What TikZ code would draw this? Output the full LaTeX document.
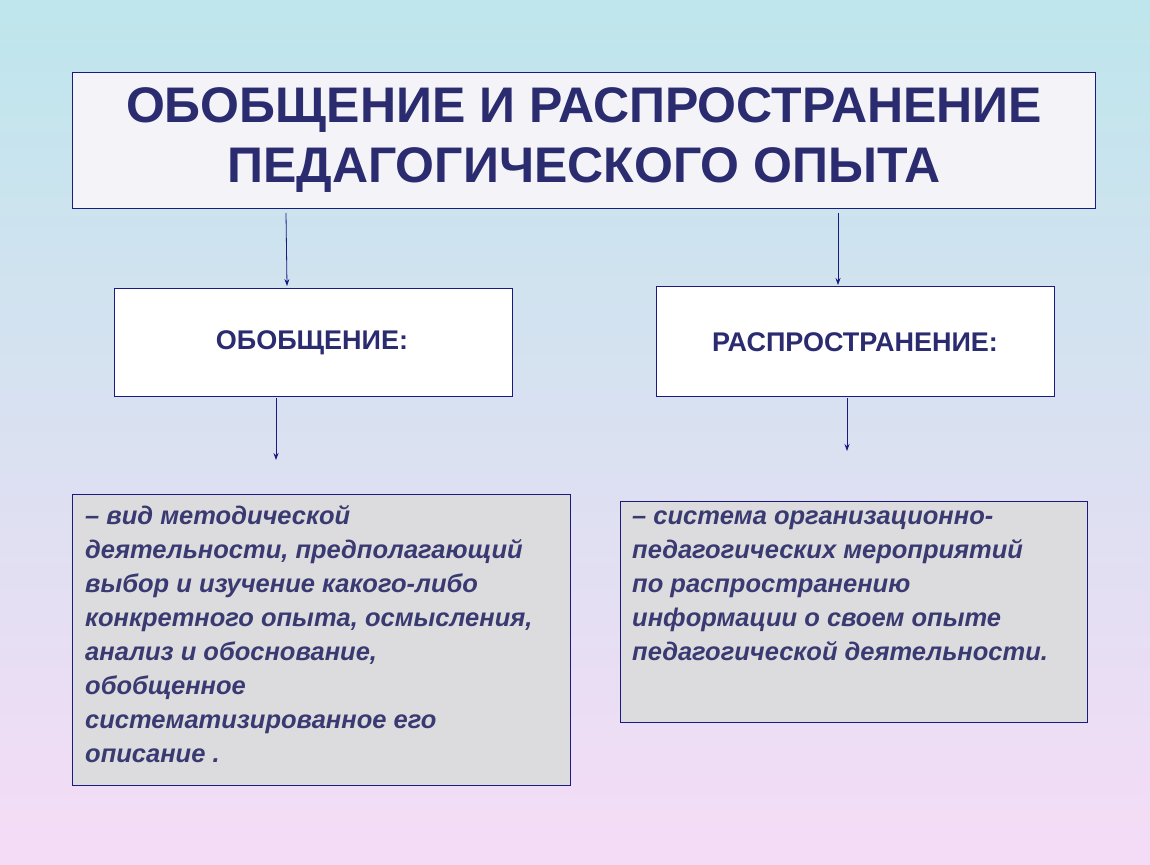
\documentclass[tikz,border=0pt]{standalone}
\usepackage{fontspec}
\setmainfont{Liberation Sans}
\usetikzlibrary{arrows.meta}
\definecolor{navy}{HTML}{2B2B70}
\definecolor{txt}{HTML}{3A3A72}
\definecolor{edge}{HTML}{1A1A80}
\begin{document}
\begin{tikzpicture}[x=1pt,y=-1pt,
  box/.style={draw=edge,line width=0.8pt},
  arr/.style={draw=edge,line width=0.8pt,-{Stealth[length=7pt,width=5pt]}},
  ttl/.style={font=\fontsize{50}{60}\selectfont\bfseries,align=center},
  hdr/.style={font=\fontsize{27}{30}\selectfont\bfseries},
  body/.style={font=\fontsize{25.5}{34}\selectfont\bfseries\itshape,align=left,anchor=north west,inner sep=0pt}]
\shade[top color={rgb,255:red,190;green,230;blue,236},bottom color={rgb,255:red,245;green,220;blue,246}] (0,0) rectangle (1150,864);
\useasboundingbox (0,0) rectangle (1150,864);
% boxes
\node[box,fill={rgb,255:red,244;green,244;blue,248},minimum width=1023,minimum height=136,anchor=north west] (t) at (72,72) {};
\node[box,fill=white,minimum width=398,minimum height=108,anchor=north west] (g) at (114,288) {};
\node[box,fill=white,minimum width=398,minimum height=110,anchor=north west] (r) at (656,286) {};
\node[box,fill={rgb,255:red,220;green,220;blue,222},minimum width=498,minimum height=291,anchor=north west] (gd) at (72,494) {};
\node[box,fill={rgb,255:red,220;green,220;blue,222},minimum width=467,minimum height=221,anchor=north west] (rd) at (620,501) {};
% title
\node[ttl,text=navy] (tt) at (584,140) {ОБОБЩЕНИЕ И РАСПРОСТРАНЕНИЕ\\ПЕДАГОГИЧЕСКОГО ОПЫТА};
\node[hdr,text=navy] (gt) at (312,343) {ОБОБЩЕНИЕ:};
\node[hdr,text=navy] (rt) at (855,342) {РАСПРОСТРАНЕНИЕ:};
% bodies
\node[body,text=txt] (gb) at (85,505) {– вид методической\\деятельности, предполагающий\\выбор и изучение какого-либо\\конкретного опыта, осмысления,\\анализ и обоснование,\\обобщенное\\систематизированное его\\описание .};
\node[body,text=txt] (rb) at (632,511) {– система организационно-\\педагогических мероприятий\\по распространению\\информации о своем опыте\\педагогической деятельности.};
% arrows
\coordinate (a1) at (286,213); \coordinate (b1) at (287,286);
\coordinate (a2) at (838,213); \coordinate (b2) at (838,285);
\coordinate (a3) at (276,398); \coordinate (b3) at (276,460);
\coordinate (a4) at (847,398); \coordinate (b4) at (847,451);
\draw[arr] (a1) -- (b1);
\draw[arr] (a2) -- (b2);
\draw[arr] (a3) -- (b3);
\draw[arr] (a4) -- (b4);
\end{tikzpicture}
\end{document}
